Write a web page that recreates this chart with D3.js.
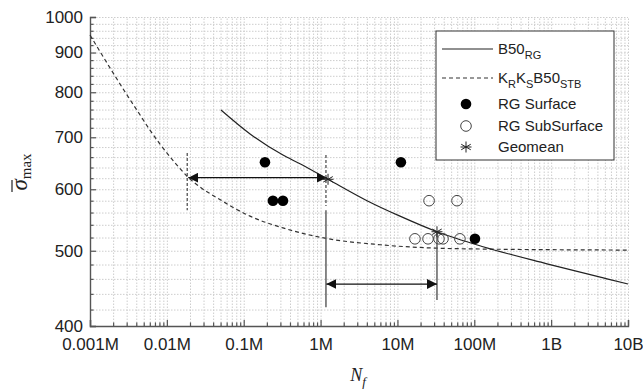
<!DOCTYPE html>
<html>
<head>
<meta charset="utf-8">
<script src="https://cdn.jsdelivr.net/npm/d3@7"></script>
<style>
  html, body { margin: 0; padding: 0; background: #fff; }
  svg { display: block; }
  text { font-family: "Liberation Sans", Arial, sans-serif; fill: #222; }
</style>
</head>
<body>
<div id="chart"></div>
<script>
// ---------------- data ----------------
const xTickValues = [1e3, 1e4, 1e5, 1e6, 1e7, 1e8, 1e9, 1e10];
const xTickLabels = ["0.001M", "0.01M", "0.1M", "1M", "10M", "100M", "1B", "10B"];
const yTickValues = [400, 500, 600, 700, 800, 900, 1000];
const yTickLabels = ["400", "500", "600", "700", "800", "900", "1000"];

// B50_RG (solid curve)
const b50rgN = [5.06e4, 1.21e5, 3.24e5, 5.4e5, 1.25e6, 4.02e6, 1.08e7, 3.27e7, 1.30e8, 8.83e8, 5.33e9, 1e10];
const b50rgS = [759, 707, 664, 647, 618, 580, 554, 529, 506, 481, 460, 453];

// K_R K_S B50_STB (dashed curve)
const stbN = [1e3, 1820, 2854, 4212, 6035, 8142, 12765, 18840, 26990, 44920, 1.207e5, 3.244e5, 1.142e6, 5.93e6, 6.52e7, 1e10];
const stbS = [948, 860, 801, 755, 715, 686, 649, 622, 604, 585, 554, 535, 519, 509, 503, 501];

// RG Surface (filled circles)
const surfN = [1.89e5, 2.40e5, 3.24e5, 1.11e7, 1.02e8];
const surfS = [650, 580, 580, 650, 518];

// RG SubSurface (open circles)
const subN = [2.58e7, 5.96e7, 1.69e7, 2.50e7, 3.47e7, 3.92e7, 6.5e7];
const subS = [580, 580, 518, 518, 518, 518, 518];

// Geomean (asterisks)
const geoN = [1.25e6, 3.27e7];
const geoS = [618, 529];

// annotation guides
const arrowUpper = { n0: 1.9e4, n1: 1.2e6, s: 621 };
const arrowLower = { n0: 1.19e6, n1: 3.27e7, s: 453 };
const dashGuideN = [1.84e4, 1.175e6];
const dashGuideS = [[668, 564], [664, 571]];
const solidGuideN = [1.175e6, 3.27e7];
const solidGuideS = [[564, 423], [529, 432]];

// ---------------- layout ----------------
const W = 643, H = 392;
const L = 90, R = 628, T = 17, B = 326;

const svg = d3.select("#chart").append("svg").attr("width", W).attr("height", H);

const x = d3.scaleLog().domain([1e3, 1e10]).range([L, R]);
const y = d3.scaleLog().domain([400, 1000]).range([B, T]);

// minor tick values
const xMinor = [];
for (let d = 3; d < 10; d++) for (let k = 2; k <= 9; k++) xMinor.push(k * Math.pow(10, d));
const yMinor = d3.range(420, 1000, 20).filter(v => v % 100 !== 0);

// ---------------- grid ----------------
const grid = svg.append("g");
grid.append("g").attr("transform", `translate(0,${B})`)
  .call(d3.axisBottom(x).tickValues(xMinor).tickSize(-(B - T)).tickFormat(""))
  .call(g => g.select(".domain").remove());
grid.append("g").attr("transform", `translate(${L},0)`)
  .call(d3.axisLeft(y).tickValues(yMinor).tickSize(-(R - L)).tickFormat(""))
  .call(g => g.select(".domain").remove());
grid.append("g").attr("transform", `translate(0,${B})`)
  .call(d3.axisBottom(x).tickValues(xTickValues).tickSize(-(B - T)).tickFormat(""))
  .call(g => g.select(".domain").remove());
grid.append("g").attr("transform", `translate(${L},0)`)
  .call(d3.axisLeft(y).tickValues(yTickValues).tickSize(-(R - L)).tickFormat(""))
  .call(g => g.select(".domain").remove());
grid.selectAll("line").attr("stroke", "#cdcdcd").attr("stroke-width", 1)
  .attr("stroke-dasharray", "1.5,1.5");

// ---------------- axes ----------------
const axisColor = "#555";
const axes = svg.append("g");
const xAxis = axes.append("g").attr("transform", `translate(0,${B})`)
  .call(d3.axisBottom(x).tickValues(xTickValues).tickSize(-6).tickPadding(12)
    .tickFormat((d, i) => xTickLabels[i]));
const yAxis = axes.append("g").attr("transform", `translate(${L},0)`)
  .call(d3.axisLeft(y).tickValues(yTickValues).tickSize(-6).tickPadding(7)
    .tickFormat((d, i) => yTickLabels[i]));
axes.append("g").attr("transform", `translate(0,${B})`)
  .call(d3.axisBottom(x).tickValues(xMinor).tickSize(-3.5).tickFormat(""))
  .call(g => g.select(".domain").remove());
axes.append("g").attr("transform", `translate(${L},0)`)
  .call(d3.axisLeft(y).tickValues(yMinor).tickSize(-3.5).tickFormat(""))
  .call(g => g.select(".domain").remove());
axes.selectAll(".tick line").attr("stroke", axisColor).attr("stroke-width", 1.2);
axes.selectAll(".domain").attr("stroke", axisColor).attr("stroke-width", 1.4);
[xAxis, yAxis].forEach(a => a.selectAll("text")
  .style("font-family", '"Liberation Sans", Arial, sans-serif')
  .style("font-size", "17px").attr("fill", "#222"));

// ---------------- curves ----------------
const line = d3.line().x(d => x(d[0])).y(d => y(d[1])).curve(d3.curveMonotoneX);
svg.append("path").datum(stbN.map((n, i) => [n, stbS[i]]))
  .attr("d", line).attr("fill", "none").attr("stroke", "#333")
  .attr("stroke-width", 1.2).attr("stroke-dasharray", "4,3");
svg.append("path").datum(b50rgN.map((n, i) => [n, b50rgS[i]]))
  .attr("d", line).attr("fill", "none").attr("stroke", "#222").attr("stroke-width", 1.2);

// ---------------- guides & arrows ----------------
const defs = svg.append("defs");
["arrS", "arrE"].forEach((id, k) => {
  defs.append("marker").attr("id", id).attr("markerUnits", "userSpaceOnUse")
    .attr("markerWidth", 12).attr("markerHeight", 10)
    .attr("refX", 10).attr("refY", 5).attr("orient", k === 0 ? "auto-start-reverse" : "auto")
    .append("path").attr("d", "M0,0 L10,5 L0,10 Z").attr("fill", "#111");
});
dashGuideN.forEach((n, i) => {
  svg.append("line").attr("x1", x(n)).attr("x2", x(n))
    .attr("y1", y(dashGuideS[i][0])).attr("y2", y(dashGuideS[i][1]))
    .attr("stroke", "#444").attr("stroke-width", 1.2).attr("stroke-dasharray", "3,2");
});
solidGuideN.forEach((n, i) => {
  svg.append("line").attr("x1", x(n)).attr("x2", x(n))
    .attr("y1", y(solidGuideS[i][0])).attr("y2", y(solidGuideS[i][1]))
    .attr("stroke", "#555").attr("stroke-width", 1.4);
});
[arrowUpper, arrowLower].forEach(a => {
  svg.append("line").attr("x1", x(a.n0)).attr("x2", x(a.n1))
    .attr("y1", y(a.s)).attr("y2", y(a.s))
    .attr("stroke", "#111").attr("stroke-width", 1.3)
    .attr("marker-start", "url(#arrS)").attr("marker-end", "url(#arrE)");
});

// ---------------- markers ----------------
const starPath = (r) => {
  const a = Math.PI / 3;
  let p = `M0,${-r}L0,${r}`;
  p += `M${-r * Math.sin(a)},${-r * Math.cos(a)}L${r * Math.sin(a)},${r * Math.cos(a)}`;
  p += `M${-r * Math.sin(a)},${r * Math.cos(a)}L${r * Math.sin(a)},${-r * Math.cos(a)}`;
  p += `M${-r},0L${r},0`;
  return p;
};
svg.append("g").selectAll("circle").data(surfN.map((n, i) => [n, surfS[i]])).join("circle")
  .attr("cx", d => x(d[0])).attr("cy", d => y(d[1])).attr("r", 5.3).attr("fill", "#000");
svg.append("g").selectAll("circle").data(subN.map((n, i) => [n, subS[i]])).join("circle")
  .attr("cx", d => x(d[0])).attr("cy", d => y(d[1])).attr("r", 5.3)
  .attr("fill", "none").attr("stroke", "#444").attr("stroke-width", 1);
svg.append("g").selectAll("path").data(geoN.map((n, i) => [n, geoS[i]])).join("path")
  .attr("transform", d => `translate(${x(d[0])},${y(d[1])})`)
  .attr("d", starPath(5.5)).attr("fill", "none").attr("stroke", "#222").attr("stroke-width", 1);

// ---------------- legend ----------------
const lg = svg.append("g");
lg.append("rect").attr("x", 436).attr("y", 31).attr("width", 178).attr("height", 129)
  .attr("fill", "#fff").attr("stroke", "#333").attr("stroke-width", 1);
const lx0 = 442, lx1 = 493, lmx = 466, ltx = 498;
const rows = [49, 78, 104, 126, 147];
lg.append("line").attr("x1", lx0).attr("x2", lx1).attr("y1", rows[0]).attr("y2", rows[0])
  .attr("stroke", "#222").attr("stroke-width", 1.2);
lg.append("line").attr("x1", lx0).attr("x2", lx1).attr("y1", rows[1]).attr("y2", rows[1])
  .attr("stroke", "#333").attr("stroke-width", 1.2).attr("stroke-dasharray", "4,3");
lg.append("circle").attr("cx", lmx).attr("cy", rows[2]).attr("r", 5.3).attr("fill", "#000");
lg.append("circle").attr("cx", lmx).attr("cy", rows[3]).attr("r", 5.3)
  .attr("fill", "none").attr("stroke", "#444");
lg.append("path").attr("transform", `translate(${lmx},${rows[4]})`).attr("d", starPath(5.5))
  .attr("fill", "none").attr("stroke", "#222");

const legendTexts = [
  [["B50", false], ["RG", true]],
  [["K", false], ["R", true], ["K", false], ["S", true], ["B50", false], ["STB", true]],
  [["RG Surface", false]],
  [["RG SubSurface", false]],
  [["Geomean", false]]
];
legendTexts.forEach((parts, i) => {
  const t = lg.append("text").attr("x", ltx).attr("y", rows[i] + 5.3).style("font-size", "15px");
  let sub = false;
  parts.forEach(([s, isSub]) => {
    const ts = t.append("tspan").text(s);
    if (isSub && !sub) { ts.attr("dy", 5).style("font-size", "11px"); sub = true; }
    else if (!isSub && sub) { ts.attr("dy", -5); sub = false; }
    else if (isSub) ts.style("font-size", "11px");
  });
});

// ---------------- axis titles ----------------
const yl = svg.append("g").attr("transform", "translate(27,172) rotate(-90)");
const ylt = yl.append("text").attr("x", 0).attr("y", 0).attr("text-anchor", "middle")
  .style("font-family", '"Liberation Serif", "DejaVu Serif", serif');
ylt.append("tspan").text("σ").style("font-size", "23px").style("font-style", "italic");
ylt.append("tspan").text("max").attr("dy", 4).style("font-size", "15px");
yl.append("line").attr("x1", -20).attr("x2", -8).attr("y1", -15).attr("y2", -15)
  .attr("stroke", "#222").attr("stroke-width", 1.2);

const xl = svg.append("text").attr("x", 358).attr("y", 381).attr("text-anchor", "middle")
  .style("font-family", '"Liberation Serif", "DejaVu Serif", serif').style("font-style", "italic");
xl.append("tspan").text("N").style("font-size", "18px");
xl.append("tspan").text("f").attr("dy", 5).style("font-size", "13px");
</script>
</body>
</html>
